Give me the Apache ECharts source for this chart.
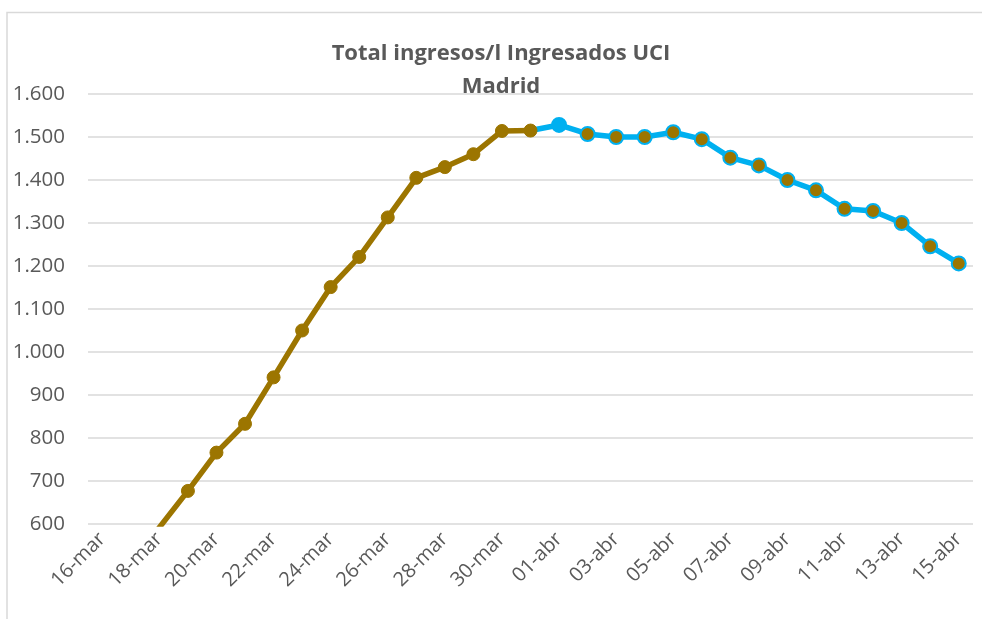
<!DOCTYPE html>
<html>
<head>
<meta charset="utf-8">
<script src="https://cdn.jsdelivr.net/npm/echarts@6/dist/echarts.min.js"></script>
<style>html,body{margin:0;padding:0;background:#fff;}#c{width:982px;height:619px;}</style>
</head>
<body>
<div id="c"></div>
<script>
const categories = ['16-mar','17-mar','18-mar','19-mar','20-mar','21-mar','22-mar','23-mar','24-mar','25-mar','26-mar','27-mar','28-mar','29-mar','30-mar','31-mar',
  '01-abr','02-abr','03-abr','04-abr','05-abr','06-abr','07-abr','08-abr','09-abr','10-abr','11-abr','12-abr','13-abr','14-abr','15-abr'];
const values = [420, 500, 592, 677, 766, 833, 941, 1050, 1151, 1221, 1313, 1405, 1430, 1460, 1514, 1515,
  1528, 1507, 1500, 1500, 1511, 1495, 1452, 1434, 1400, 1376, 1333, 1328, 1300, 1246, 1206];
const yMin = 600, yMax = 1600, yStep = 100;
const splitIndex = 15; // 31-mar: last brown point

const brown = '#9C7500';
const blue = '#00B0F0';

const brownData = values.map((v, i) => i <= splitIndex ? v : null);
const blueData = values.map((v, i) => {
  if (i < splitIndex) return null;
  if (i === splitIndex) return { value: v, symbol: 'none' };
  if (i === splitIndex + 1) return { value: v, itemStyle: { color: blue, borderColor: blue } };
  return v;
});

const chart = echarts.init(document.getElementById('c'), null, { renderer: 'canvas' });
const fmt = v => {
  const s = String(v);
  return s.length > 3 ? s.slice(0, s.length - 3) + '.' + s.slice(-3) : s;
};
chart.setOption({
  animation: false,
  backgroundColor: '#fff',
  graphic: [{
    type: 'rect', silent: true, z: -1,
    shape: { x: 7, y: 12.5, width: 1000, height: 700 },
    style: { fill: 'none', stroke: '#d9d9d9', lineWidth: 1.5 }
  }],
  title: {
    text: 'Total ingresos/l Ingresados UCI\nMadrid',
    left: 496, top: 32, textAlign: 'center',
    textStyle: { fontFamily: 'Open Sans', fontSize: 22, fontWeight: 'bold', color: '#595959', lineHeight: 33 }
  },
  grid: { left: 88, right: 9, top: 94, bottom: 95, containLabel: false },
  xAxis: {
    type: 'category', data: categories, boundaryGap: true,
    axisLine: { show: false }, axisTick: { show: false },
    axisLabel: { interval: 1, rotate: 45, fontFamily: 'Open Sans', fontSize: 20, color: '#595959', margin: 12 }
  },
  yAxis: {
    type: 'value', min: yMin, max: yMax, interval: yStep,
    axisLine: { show: false }, axisTick: { show: false },
    splitLine: { lineStyle: { color: '#d9d9d9', width: 1.5 } },
    axisLabel: { formatter: fmt, fontFamily: 'Open Sans', fontSize: 20.5, color: '#595959', margin: 23 }
  },
  series: [
    {
      type: 'line', data: brownData, clip: true, connectNulls: false,
      symbol: 'circle', symbolSize: 13, showAllSymbol: true,
      lineStyle: { color: brown, width: 5.5 },
      itemStyle: { color: brown, borderColor: brown, borderWidth: 1 },
      z: 3
    },
    {
      type: 'line', data: blueData, clip: true, connectNulls: false,
      symbol: 'circle', symbolSize: 14, showAllSymbol: true,
      lineStyle: { color: blue, width: 5.5 },
      itemStyle: { color: brown, borderColor: blue, borderWidth: 2 },
      z: 2
    }
  ]
});
</script>
</body>
</html>
